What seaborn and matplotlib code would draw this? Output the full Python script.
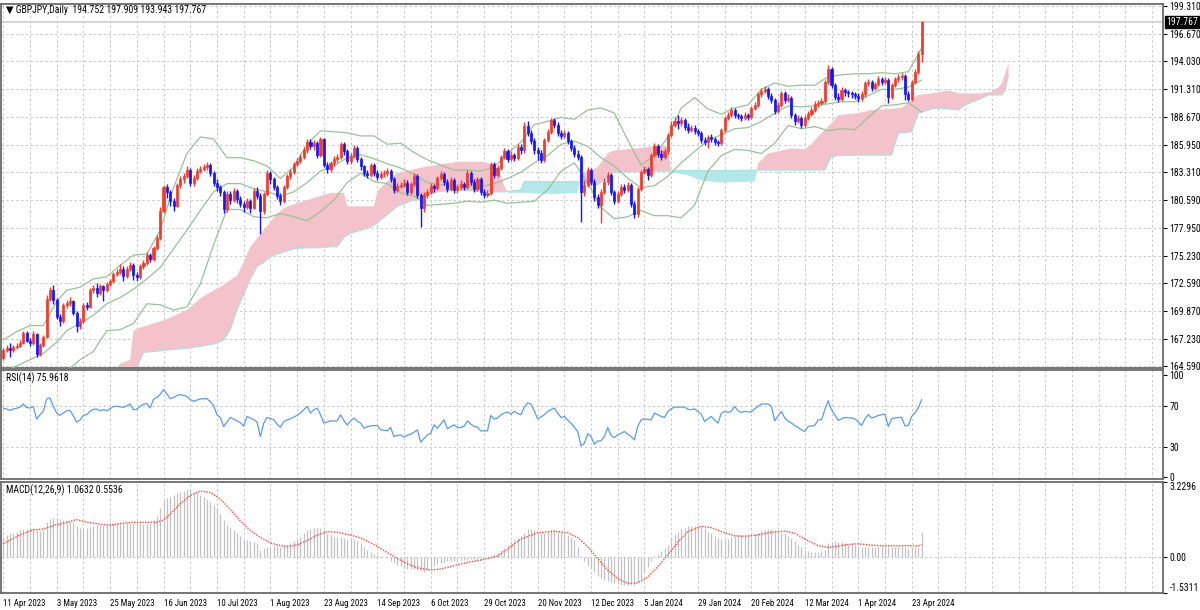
import numpy as np
import pandas as pd
import matplotlib
matplotlib.use("Agg")
import matplotlib.pyplot as plt
from matplotlib import font_manager
import seaborn as sns

sns.set_style("white")
plt.rcParams['font.family'] = ['Liberation Sans', 'DejaVu Sans']

# daily GBPJPY, 11 Apr 2023 .. 26 Apr 2024
first_open = 165.40
closes = [
    166.10, 166.30, 166.10, 166.40, 166.55, 166.85, 167.80, 167.05, 166.80, 167.70,
    165.75, 166.60, 167.40, 171.10, 171.90, 171.00, 169.35, 168.90, 170.50, 170.65,
    170.85, 169.75, 168.50, 168.90, 170.50, 170.30, 171.90, 172.10, 171.60, 172.30,
    171.90, 172.50, 172.75, 173.50, 173.70, 174.00, 173.30, 174.00, 174.30, 173.40,
    173.20, 174.20, 174.50, 175.30, 174.90, 176.00, 176.90, 179.60, 181.90, 181.40,
    180.50, 180.00, 182.10, 182.60, 182.90, 183.50, 182.30, 182.70, 183.40, 183.60,
    183.80, 184.00, 183.20, 182.30, 181.90, 181.40, 179.70, 181.20, 180.60, 181.50,
    180.70, 180.20, 179.90, 180.50, 179.80, 181.50, 181.00, 179.60, 181.20, 183.20,
    182.60, 181.90, 181.00, 180.50, 181.90, 182.90, 183.30, 184.10, 184.40, 184.80,
    185.40, 186.20, 185.80, 186.10, 185.00, 186.50, 184.00, 183.60, 184.15, 184.60,
    184.80, 186.00, 185.30, 184.40, 184.90, 185.60, 184.60, 183.85, 183.20, 183.00,
    184.00, 183.20, 182.80, 183.10, 183.20, 183.40, 182.60, 181.60, 182.00, 182.10,
    182.30, 181.40, 182.20, 182.90, 181.10, 179.80, 181.10, 181.40, 182.00, 181.80,
    182.70, 183.10, 182.40, 181.70, 182.50, 181.60, 181.90, 182.20, 181.90, 183.20,
    182.40, 181.70, 182.60, 181.40, 181.10, 181.30, 184.10, 183.00, 183.70, 184.80,
    185.30, 184.60, 185.00, 184.70, 185.70, 185.40, 187.80, 187.10, 186.30, 185.40,
    185.20, 184.50, 186.40, 187.20, 188.30, 187.90, 187.10, 186.80, 187.10, 186.30,
    185.60, 185.10, 184.80, 181.40, 182.10, 183.50, 182.40, 180.90, 180.10, 181.40,
    182.40, 183.00, 181.40, 180.50, 181.20, 181.90, 181.60, 182.10, 180.20, 179.30,
    181.70, 183.30, 183.60, 183.00, 185.00, 185.80, 185.10, 184.80, 185.30, 186.90,
    187.90, 188.20, 188.00, 188.30, 187.70, 187.40, 187.60, 187.30, 187.10, 186.40,
    186.20, 186.70, 186.50, 186.20, 186.10, 187.40, 188.50, 188.80, 189.30, 188.80,
    188.70, 188.50, 188.80, 188.60, 189.50, 189.80, 190.80, 191.10, 191.30, 190.70,
    190.30, 189.20, 189.80, 190.90, 190.30, 190.50, 188.80, 188.20, 188.50, 187.90,
    188.50, 188.90, 189.30, 189.90, 190.00, 190.20, 192.00, 193.30, 191.70, 190.60,
    190.40, 191.20, 191.00, 190.90, 190.80, 190.70, 190.50, 190.80, 191.90, 192.00,
    191.40, 191.80, 192.30, 192.00, 192.20, 190.60, 191.70, 192.30, 192.50, 192.60,
    190.80, 190.40, 192.00, 193.00, 194.752, 197.767,
]
highs = [
    166.30, 166.60, 166.80, 166.60, 166.80, 167.10, 167.95, 168.00, 167.30, 168.00,
    167.80, 166.80, 167.60, 171.40, 172.20, 172.40, 171.20, 169.60, 170.70, 171.00,
    171.30, 171.00, 169.90, 169.20, 170.70, 170.80, 172.10, 172.40, 172.60, 172.50,
    172.40, 172.70, 173.00, 173.70, 174.00, 174.40, 174.20, 174.20, 174.60, 174.50,
    173.70, 174.40, 174.80, 175.60, 175.50, 176.20, 177.20, 179.90, 182.10, 182.20,
    181.60, 180.80, 182.30, 182.90, 183.20, 183.90, 183.70, 183.00, 183.70, 183.90,
    184.10, 184.30, 184.20, 183.40, 182.60, 182.10, 181.60, 181.50, 181.50, 181.80,
    181.70, 181.00, 180.50, 180.80, 180.70, 181.80, 181.90, 181.30, 181.40, 183.50,
    183.40, 182.80, 182.10, 181.30, 182.10, 183.10, 183.60, 184.30, 184.70, 185.10,
    185.70, 186.50, 186.50, 186.40, 186.30, 186.70, 186.60, 184.30, 184.40, 184.90,
    185.10, 186.20, 186.20, 185.50, 185.20, 185.90, 185.80, 184.80, 184.00, 183.50,
    184.20, 184.20, 183.50, 183.40, 183.50, 183.70, 183.60, 182.80, 182.30, 182.40,
    182.60, 182.50, 182.40, 183.20, 183.10, 181.30, 181.40, 181.70, 182.30, 182.20,
    182.90, 183.40, 183.30, 182.60, 182.80, 182.70, 182.20, 182.50, 182.40, 183.50,
    183.40, 182.60, 182.80, 182.80, 181.70, 181.60, 184.30, 184.30, 184.00, 185.00,
    185.60, 185.50, 185.30, 185.20, 186.00, 186.00, 188.10, 188.20, 187.40, 186.60,
    185.70, 185.40, 186.60, 187.50, 188.50, 188.50, 188.10, 187.40, 187.40, 187.30,
    186.50, 185.90, 185.40, 185.00, 182.50, 183.80, 183.70, 182.60, 181.20, 181.70,
    182.70, 183.30, 183.20, 181.60, 181.50, 182.20, 182.20, 182.40, 182.30, 180.50,
    181.90, 183.50, 183.90, 183.80, 185.20, 186.10, 186.00, 185.40, 185.60, 187.10,
    188.20, 188.60, 188.80, 188.60, 188.50, 188.00, 187.90, 187.90, 187.50, 187.30,
    186.70, 186.90, 187.00, 186.70, 186.40, 187.60, 188.70, 189.10, 189.60, 189.50,
    189.00, 188.90, 189.10, 189.00, 189.70, 190.10, 191.00, 191.40, 191.60, 191.50,
    190.90, 190.50, 190.10, 191.10, 191.10, 190.80, 190.70, 189.00, 188.80, 188.70,
    188.80, 189.20, 189.60, 190.20, 190.30, 190.50, 192.20, 193.60, 193.50, 191.90,
    190.90, 191.50, 191.40, 191.20, 191.10, 191.00, 190.90, 191.10, 192.10, 192.30,
    192.20, 192.00, 192.60, 192.50, 192.50, 192.40, 191.90, 192.50, 192.80, 192.90,
    192.80, 191.10, 192.20, 193.30, 195.00, 197.909,
]
lows = [
    165.20, 165.90, 165.50, 165.90, 166.20, 166.40, 166.70, 166.90, 166.50, 166.60,
    165.50, 165.60, 166.40, 167.30, 170.90, 170.60, 169.10, 168.50, 168.70, 170.20,
    170.40, 169.50, 167.90, 168.20, 168.70, 170.00, 170.20, 171.60, 171.30, 171.40,
    170.90, 171.70, 172.30, 172.60, 173.30, 173.50, 172.80, 173.10, 173.80, 172.90,
    172.80, 173.00, 174.00, 174.30, 174.60, 174.70, 175.80, 176.80, 179.40, 180.80,
    180.00, 179.60, 179.90, 181.80, 182.30, 182.70, 182.00, 182.00, 182.50, 183.20,
    183.40, 183.50, 182.90, 182.00, 181.50, 181.00, 179.40, 179.50, 180.20, 180.40,
    180.30, 179.90, 179.50, 179.70, 179.40, 179.70, 180.70, 177.30, 179.30, 181.00,
    182.20, 181.60, 180.70, 180.10, 180.30, 181.70, 182.60, 183.10, 183.90, 184.20,
    184.60, 185.20, 185.50, 185.40, 184.70, 184.80, 183.80, 183.20, 183.30, 183.90,
    184.30, 184.60, 185.00, 184.10, 184.10, 184.70, 184.30, 183.50, 182.90, 182.70,
    182.80, 182.90, 182.50, 182.60, 182.80, 182.90, 182.40, 181.30, 181.40, 181.80,
    181.90, 181.10, 181.20, 182.00, 180.80, 178.00, 179.50, 180.80, 181.20, 181.40,
    181.60, 182.50, 182.10, 181.40, 181.50, 181.30, 181.30, 181.60, 181.60, 181.70,
    182.10, 181.40, 181.50, 181.10, 180.80, 180.90, 181.10, 182.70, 182.80, 183.50,
    184.60, 184.30, 184.40, 184.40, 184.50, 185.10, 185.20, 186.80, 186.00, 185.10,
    184.50, 184.20, 184.30, 186.20, 187.00, 187.60, 186.80, 186.50, 186.60, 186.00,
    185.30, 184.80, 184.50, 178.50, 181.00, 181.90, 182.10, 180.50, 179.80, 178.40,
    181.20, 182.10, 181.10, 180.20, 180.30, 181.00, 181.30, 181.40, 179.90, 178.90,
    179.00, 181.50, 183.10, 182.50, 182.80, 184.80, 184.80, 184.50, 184.60, 185.10,
    186.70, 187.70, 187.50, 187.80, 187.40, 187.10, 187.20, 187.00, 186.80, 186.10,
    185.90, 185.60, 186.20, 185.90, 185.80, 185.90, 187.20, 188.30, 188.60, 188.50,
    188.40, 188.20, 188.30, 188.30, 188.40, 189.30, 189.60, 190.60, 190.90, 190.40,
    190.00, 188.90, 189.00, 189.60, 190.00, 190.10, 188.50, 187.90, 188.00, 187.60,
    187.70, 188.30, 188.70, 189.10, 189.60, 189.80, 190.00, 191.80, 191.40, 190.30,
    190.10, 190.20, 190.70, 190.60, 190.50, 190.40, 190.10, 190.20, 190.60, 191.60,
    191.10, 191.20, 191.60, 191.70, 191.80, 190.00, 190.40, 191.50, 192.00, 192.20,
    190.30, 190.20, 190.20, 191.80, 192.80, 193.943,
]

# Bollinger Bands (20, 2)
bb_bar = [0, 4, 8, 12, 16] + list(range(19, 272, 4)) + [275]
bb_upper = [
    167.1, 167.9, 168.5, 168.5, 170.8, 171.9, 172.2, 173.0, 173.2, 174.3,
    175.3, 175.4, 177.7, 181.8, 185.1, 186.7, 186.5, 184.7, 184.7, 184.4,
    183.9, 182.7, 183.8, 186.0, 187.3, 187.2, 187.1, 186.8, 186.8, 186.0,
    186.1, 185.2, 184.5, 184.0, 183.5, 183.5, 183.4, 183.8, 185.1, 186.2,
    187.9, 188.2, 188.6, 188.4, 189.3, 189.5, 189.0, 186.4, 184.0, 184.9,
    186.7, 189.5, 190.5, 189.4, 188.9, 189.5, 189.8, 191.3, 191.9, 191.6,
    191.7, 191.7, 192.5, 192.7, 192.8, 192.8, 192.9, 192.8, 193.0, 195.3,
]
bb_mid = [
    164.0, 164.6, 165.2, 165.8, 166.9, 168.0, 168.7, 169.5, 170.6, 171.2,
    172.0, 173.0, 174.1, 175.9, 177.7, 179.6, 181.4, 182.2, 182.2, 181.7,
    181.4, 181.0, 181.4, 182.3, 183.4, 183.9, 184.7, 185.0, 184.6, 184.1,
    183.7, 183.1, 182.3, 182.1, 181.9, 182.0, 181.9, 182.2, 182.7, 183.3,
    184.2, 184.9, 186.0, 186.3, 185.8, 184.7, 183.9, 182.7, 181.8, 182.0,
    182.9, 184.2, 185.3, 186.4, 186.9, 187.5, 187.6, 188.2, 189.0, 189.7,
    189.6, 189.7, 189.9, 190.1, 190.1, 190.7, 191.3, 191.3, 191.5, 192.2,
]
bb_lower = [
    160.9, 161.3, 161.9, 163.1, 163.0, 164.1, 165.2, 166.0, 168.0, 168.1,
    168.7, 170.6, 170.5, 170.0, 170.3, 172.5, 176.3, 179.7, 179.7, 179.0,
    178.9, 179.3, 179.0, 178.6, 179.5, 180.6, 182.3, 183.2, 182.4, 182.2,
    181.3, 181.0, 180.1, 180.2, 180.3, 180.5, 180.4, 180.6, 180.3, 180.4,
    180.5, 181.6, 183.4, 184.2, 182.3, 179.9, 178.8, 179.0, 179.6, 179.1,
    179.1, 178.9, 180.1, 183.4, 184.9, 185.5, 185.4, 185.1, 186.1, 187.8,
    187.5, 187.7, 187.3, 187.5, 187.4, 188.6, 189.7, 189.8, 190.0, 189.1,
]

# Ichimoku cloud (Senkou span A / B, shifted 26 bars ahead)
kumo_bar = [
    28, 32, 35, 38, 39, 41, 42, 45, 48, 51, 55, 59, 63, 66, 68, 70, 72, 74, 76, 78,
    80, 82, 84, 86, 88, 91, 95, 98, 100, 102, 103, 104, 107, 110, 111, 112, 113, 115, 118, 122,
    126, 130, 136, 144, 148, 150, 151, 155, 156, 165, 172, 173, 177, 178, 181, 182, 183, 190, 195, 199,
    200, 205, 209, 215, 225, 226, 229, 236, 240, 242, 243, 246, 247, 248, 250, 256, 260, 265, 266, 268,
    269, 272, 274, 278, 280, 283, 286, 288, 292, 295, 296, 298, 299, 300, 301,
]
span_a = [
    163.0, 163.8, 164.8, 165.2, 168.0, 168.3, 168.4, 168.7, 169.0, 169.4,
    170.0, 171.1, 171.9, 172.4, 172.9, 173.3, 174.6, 176.1, 176.9, 177.7,
    178.5, 179.3, 179.8, 180.1, 180.3, 180.6, 181.0, 181.3, 181.3, 181.3,
    180.0, 180.0, 180.0, 180.0, 180.0, 181.4, 181.8, 182.4, 183.2, 183.5,
    183.8, 184.0, 184.3, 184.3, 183.8, 182.0, 181.3, 181.3, 181.3, 181.2,
    181.3, 183.2, 183.6, 183.8, 185.1, 185.3, 185.4, 185.6, 185.8, 185.8,
    183.3, 183.0, 182.5, 182.3, 182.4, 184.15, 185.1, 185.6, 185.5, 186.0,
    186.4, 187.4, 187.7, 188.0, 188.8, 189.0, 189.3, 189.4, 189.4, 189.5,
    189.5, 190.3, 190.75, 190.9, 191.0, 191.2, 190.9, 190.9, 190.9, 191.0,
    191.1, 191.5, 191.9, 192.8, 193.8,
]
span_b = [
    162.0, 162.3, 162.6, 163.0, 163.5, 165.2, 165.9, 166.0, 166.1, 166.2,
    166.3, 166.5, 166.7, 167.1, 168.1, 170.0, 171.5, 173.0, 174.2, 174.6,
    175.1, 175.4, 175.6, 175.8, 175.95, 176.0, 176.0, 176.1, 176.1, 177.0,
    177.2, 177.4, 177.7, 178.0, 178.2, 178.4, 178.7, 179.2, 180.0, 180.5,
    180.9, 181.4, 181.6, 181.4, 181.4, 181.4, 181.45, 181.6, 182.4, 182.4,
    182.4, 182.2, 182.1, 182.1, 182.8, 183.2, 183.3, 183.35, 183.4, 183.4,
    183.45, 183.45, 183.45, 183.45, 183.5, 183.5, 183.5, 183.5, 183.5, 183.5,
    183.5, 183.5, 184.2, 184.8, 184.9, 184.95, 184.95, 184.95, 184.95, 187.05,
    187.1, 187.2, 189.0, 189.4, 189.5, 189.4, 189.3, 189.8, 190.3, 190.75,
    190.75, 190.75, 190.75, 191.2, 192.7,
]

# RSI(14)
rsi = [
    67.7, 66.7, 65.4, 66.8, 67.5, 68.5, 71.6, 68.2, 67.7, 69.3,
    56.9, 61.1, 64.4, 76.6, 77.5, 69.3, 63.0, 60.5, 62.8, 65.1,
    65.4, 60.0, 53.9, 56.0, 60.5, 61.3, 64.5, 66.5, 66.7, 65.1,
    66.1, 65.1, 67.0, 69.3, 69.3, 69.0, 68.4, 70.0, 71.6, 66.0,
    66.5, 69.3, 71.5, 72.0, 67.7, 76.2, 78.0, 81.0, 85.7, 81.5,
    76.9, 78.0, 80.0, 80.8, 80.0, 79.2, 76.0, 74.3, 75.5, 76.6,
    76.7, 76.9, 74.0, 70.0, 61.1, 58.5, 49.7, 54.0, 58.5, 56.8,
    55.2, 53.5, 50.0, 59.5, 57.9, 56.5, 54.0, 39.8, 52.9, 58.5,
    57.5, 56.2, 52.0, 49.0, 54.6, 56.0, 57.2, 59.0, 60.5, 62.8,
    66.0, 69.3, 62.8, 66.0, 67.7, 61.1, 53.0, 54.0, 55.2, 55.0,
    55.2, 61.1, 55.5, 51.0, 55.0, 57.9, 55.0, 53.0, 48.0, 49.5,
    50.3, 50.5, 50.7, 46.4, 46.0, 45.4, 48.7, 39.8, 41.0, 41.5,
    39.2, 41.0, 42.1, 44.0, 46.4, 34.3, 38.0, 41.5, 43.1, 51.3,
    48.0, 52.0, 56.2, 47.4, 49.5, 51.3, 48.7, 48.7, 50.0, 55.2,
    52.0, 49.7, 49.0, 45.4, 45.4, 45.4, 60.5, 56.9, 57.9, 61.0,
    62.8, 63.8, 61.8, 64.4, 62.5, 61.1, 68.4, 72.6, 71.6, 65.0,
    57.2, 59.0, 61.1, 64.4, 66.0, 67.7, 62.8, 58.5, 59.5, 56.0,
    53.0, 49.0, 44.8, 30.7, 33.3, 42.5, 39.8, 32.3, 35.6, 35.6,
    40.0, 48.7, 41.0, 38.9, 41.5, 43.0, 44.8, 42.0, 39.8, 36.6,
    50.0, 56.2, 57.2, 56.5, 56.2, 62.8, 61.1, 59.5, 58.5, 64.4,
    67.0, 68.7, 68.5, 68.7, 68.7, 66.5, 66.1, 67.0, 64.0, 61.8,
    54.6, 57.0, 59.5, 56.0, 53.0, 62.5, 64.4, 63.5, 64.4, 69.3,
    65.0, 63.4, 64.4, 64.0, 63.8, 67.0, 69.3, 71.6, 71.6, 71.6,
    69.3, 55.2, 60.0, 64.4, 58.0, 55.0, 53.0, 50.5, 48.7, 46.5,
    44.8, 49.7, 50.2, 50.7, 56.2, 56.2, 66.0, 74.9, 66.0, 61.1,
    55.6, 57.0, 58.5, 58.2, 57.9, 57.2, 54.0, 50.7, 57.0, 61.1,
    57.9, 59.0, 60.5, 61.2, 61.8, 49.7, 57.2, 57.8, 58.5, 58.5,
    50.3, 50.7, 59.5, 63.0, 68.0, 75.9618,
]

# MACD(12,26,9): main line as histogram, signal as dotted line
macd_hist = [
    0.89, 0.96, 1.03, 1.06, 1.10, 1.16, 1.22, 1.23, 1.24, 1.25,
    1.15, 1.12, 1.18, 1.50, 1.65, 1.70, 1.68, 1.65, 1.60, 1.56,
    1.55, 1.53, 1.32, 1.25, 1.25, 1.25, 1.30, 1.36, 1.37, 1.38,
    1.39, 1.40, 1.42, 1.44, 1.45, 1.46, 1.47, 1.48, 1.49, 1.47,
    1.46, 1.46, 1.44, 1.42, 1.45, 1.60, 1.75, 2.10, 2.46, 2.56,
    2.60, 2.66, 2.74, 2.79, 2.84, 2.93, 2.88, 2.82, 2.74, 2.67,
    2.60, 2.50, 2.39, 2.25, 2.10, 1.85, 1.60, 1.39, 1.28, 1.18,
    1.05, 0.90, 0.75, 0.72, 0.68, 0.65, 0.61, 0.32, 0.40, 0.46,
    0.50, 0.53, 0.50, 0.46, 0.50, 0.53, 0.60, 0.68, 0.78, 0.89,
    1.03, 1.18, 1.22, 1.24, 1.25, 1.27, 1.15, 1.03, 0.95, 0.89,
    0.87, 0.85, 0.82, 0.79, 0.77, 0.75, 0.68, 0.61, 0.46, 0.32,
    0.23, 0.14, 0.09, 0.04, 0.00, -0.03, -0.14, -0.25, -0.32, -0.39,
    -0.44, -0.49, -0.51, -0.52, -0.53, -0.58, -0.63, -0.56, -0.49, -0.39,
    -0.29, -0.25, -0.21, -0.18, -0.17, -0.16, -0.15, -0.13, -0.12, -0.10,
    -0.06, -0.12, -0.18, -0.10, -0.04, -0.02, 0.04, 0.12, 0.19, 0.30,
    0.40, 0.54, 0.68, 0.75, 0.82, 0.92, 1.03, 1.22, 1.20, 1.18,
    1.10, 1.03, 1.06, 1.10, 1.15, 1.18, 1.14, 1.10, 1.03, 0.96,
    0.86, 0.75, 0.46, 0.00, -0.18, -0.32, -0.50, -0.61, -0.80, -0.89,
    -0.96, -1.03, -1.07, -1.10, -1.15, -1.18, -1.19, -1.20, -1.19, -1.18,
    -1.05, -0.96, -0.65, -0.40, -0.18, 0.04, 0.15, 0.25, 0.40, 0.53,
    0.89, 1.00, 1.10, 1.20, 1.27, 1.32, 1.36, 1.36, 1.36, 1.30,
    1.25, 1.10, 1.03, 0.90, 0.82, 0.78, 0.75, 0.80, 0.85, 0.90,
    0.96, 0.96, 0.96, 0.94, 0.93, 0.98, 1.03, 1.12, 1.18, 1.20,
    1.22, 1.15, 1.10, 1.06, 1.03, 0.92, 0.82, 0.68, 0.53, 0.42,
    0.32, 0.27, 0.22, 0.22, 0.22, 0.27, 0.32, 0.61, 0.66, 0.68,
    0.66, 0.64, 0.61, 0.58, 0.55, 0.53, 0.48, 0.42, 0.44, 0.46,
    0.46, 0.46, 0.48, 0.50, 0.48, 0.46, 0.44, 0.42, 0.44, 0.46,
    0.41, 0.36, 0.42, 0.44, 0.46, 1.0632,
]
sig_bar = [
    0, 5, 9, 12, 15, 19, 22, 25, 29, 32, 35, 39, 43, 46, 48, 50, 53, 56, 59, 62,
    65, 68, 71, 74, 77, 80, 83, 85, 88, 91, 94, 97, 100, 104, 107, 111, 115, 118, 121, 124,
    128, 131, 135, 139, 143, 148, 151, 155, 160, 165, 169, 172, 175, 178, 181, 184, 187, 190, 193, 196,
    199, 202, 205, 209, 212, 216, 219, 222, 226, 230, 234, 237, 240, 244, 247, 250, 253, 256, 260, 264,
    268, 271, 274, 275,
]
macd_signal = [
    0.58, 0.96, 1.18, 1.21, 1.36, 1.50, 1.62, 1.50, 1.42, 1.38,
    1.45, 1.50, 1.50, 1.50, 1.60, 1.85, 2.30, 2.65, 2.84, 2.78,
    2.50, 2.05, 1.55, 1.15, 0.85, 0.62, 0.50, 0.46, 0.53, 0.72,
    0.95, 1.10, 1.07, 0.95, 0.83, 0.55, 0.20, -0.05, -0.28, -0.45,
    -0.55, -0.50, -0.36, -0.22, -0.12, 0.05, 0.35, 0.78, 1.05, 1.12,
    1.05, 0.85, 0.45, -0.05, -0.55, -0.92, -1.12, -1.10, -0.85, -0.40,
    0.10, 0.65, 1.10, 1.33, 1.27, 1.05, 0.92, 0.90, 0.96, 1.08,
    1.12, 1.03, 0.78, 0.50, 0.42, 0.48, 0.55, 0.58, 0.52, 0.49,
    0.49, 0.50, 0.48, 0.5536,
]

price_ticks = [199.310, 196.670, 194.030, 191.310, 188.670, 185.950, 183.310,
               180.590, 177.950, 175.230, 172.590, 169.870, 167.230, 164.590]
rsi_ticks = [0, 30, 70, 100]
macd_ticks = [-1.5311, 0.0, 3.2296]
macd_tick_labels = ["-1.5311", "0.00", "3.2296"]
date_labels = ["11 Apr 2023", "3 May 2023", "25 May 2023", "16 Jun 2023", "10 Jul 2023",
               "1 Aug 2023", "23 Aug 2023", "14 Sep 2023", "6 Oct 2023", "29 Oct 2023",
               "20 Nov 2023", "12 Dec 2023", "5 Jan 2024", "29 Jan 2024", "20 Feb 2024",
               "12 Mar 2024", "1 Apr 2024", "23 Apr 2024"]
label_step = 16
grid_step = 8

RED = "#f23b2b"
BLUE = "#1515ff"
BAND = "#96c396"
PINK = "#f4c2ca"
CYAN = "#b3e7e9"
GRID = "#c9c9c9"
DASH = (0, (2.5, 2.5))


def pick_family(cands):
    for c in cands:
        try:
            font_manager.findfont(font_manager.FontProperties(family=c),
                                  fallback_to_default=False)
            return c
        except ValueError:
            pass
    return None


narrow = pick_family(["Liberation Sans Narrow", "DejaVu Sans Condensed", "Roboto Condensed"])
if narrow:
    FAM = [narrow, "DejaVu Sans"]
    FS_TXT, FS_TICK, FS_DATE = 7.0, 7.0, 6.3
else:
    FAM = ["Liberation Sans", "DejaVu Sans"]
    FS_TXT, FS_TICK, FS_DATE = 5.7, 6.2, 5.2

df = pd.DataFrame({"close": closes, "high": highs, "low": lows})
df["open"] = [first_open] + closes[:-1]
df["bar"] = np.arange(len(df))
df["up"] = df["close"] >= df["open"]
df["body_lo"] = df[["open", "close"]].min(axis=1)
df["body_hi"] = df[["open", "close"]].max(axis=1)
cols = np.where(df["up"], RED, BLUE)

fig = plt.figure(figsize=(12, 6.1), dpi=100)
ax_p = fig.add_axes([0.001, 0.3967, 0.9683, 0.5967])
ax_r = fig.add_axes([0.001, 0.2148, 0.9683, 0.1787])
ax_m = fig.add_axes([0.001, 0.0279, 0.9683, 0.1820])

n_grid = int(347 // grid_step) + 1
for ax in (ax_p, ax_r, ax_m):
    ax.yaxis.tick_right()
    ax.tick_params(axis="y", which="both", length=3, width=0.8, pad=1.5,
                   labelsize=FS_TICK, colors="black")
    ax.set_xticks(np.arange(n_grid) * grid_step, minor=True)
    ax.set_xticks(np.arange(len(date_labels)) * label_step)
    ax.grid(True, axis="x", which="both", linestyle=DASH, color=GRID, linewidth=0.7)
    for s in ax.spines.values():
        s.set_color("#6a6a6a")
        s.set_linewidth(1.3)

# ---- price panel ----
ax_p.set_ylim(164.40, 199.53)
ax_p.set_yticks(price_ticks)
ax_p.set_yticklabels([f"{v:.3f}" for v in price_ticks])
ax_p.grid(True, axis="y", linestyle=DASH, color=GRID, linewidth=0.7)
ax_p.tick_params(axis="x", which="both", length=0, labelbottom=False)

a = np.array(span_a)
b = np.array(span_b)
ax_p.fill_between(kumo_bar, a, b, where=a >= b, interpolate=True, color=PINK, lw=0, zorder=1)
ax_p.fill_between(kumo_bar, a, b, where=a < b, interpolate=True, color=CYAN, lw=0, zorder=1)
sns.lineplot(x=kumo_bar, y=span_b, ax=ax_p, color="#a9e1e4", linewidth=0.8, zorder=2)

for band in (bb_upper, bb_mid, bb_lower):
    sns.lineplot(x=bb_bar, y=band, ax=ax_p, color=BAND, linewidth=0.9, zorder=3)

ax_p.axhline(closes[-1], color="#d6d6d6", linewidth=1.4, zorder=0.5)

ax_p.vlines(df["bar"], df["low"], df["high"], colors=cols, linewidth=1.0, zorder=4)
ax_p.bar(df["bar"], df["body_hi"] - df["body_lo"], bottom=df["body_lo"], width=0.62,
         color=cols, edgecolor=cols, linewidth=0.5, zorder=5)

last = (float(df["open"].iloc[-1]), highs[-1], lows[-1], closes[-1])
ax_p.text(0.004, 0.983, "\u25bc GBPJPY,Daily  " + " ".join(f"{v:.3f}" for v in last),
          transform=ax_p.transAxes, ha="left", va="center", fontsize=FS_TXT,
          color="black", family=FAM, zorder=10)
ax_p.text(1.0025, closes[-1], f"{closes[-1]:.3f}", transform=ax_p.get_yaxis_transform(),
          ha="left", va="center", fontsize=FS_TICK, color="white", family=FAM,
          zorder=10, clip_on=False,
          bbox=dict(boxstyle="square,pad=0.12", fc="black", ec="black"))

# ---- RSI panel ----
ax_r.set_ylim(-1.6, 104.9)
ax_r.set_yticks(rsi_ticks)
ax_r.set_yticklabels([str(v) for v in rsi_ticks])
ax_r.tick_params(axis="x", which="both", length=0, labelbottom=False)
for lvl in (70, 30):
    ax_r.axhline(lvl, linestyle=DASH, color=GRID, linewidth=0.7, zorder=0)
sns.lineplot(x=df["bar"], y=rsi, ax=ax_r, color="#5a9af0", linewidth=0.9, zorder=3)
ax_r.text(0.004, 0.927, f"RSI(14) {rsi[-1]:.4f}", transform=ax_r.transAxes,
          ha="left", va="center", fontsize=FS_TXT, color="black", family=FAM)

# ---- MACD panel ----
ax_m.set_ylim(macd_ticks[0], macd_ticks[-1])
ax_m.set_yticks(macd_ticks)
ax_m.set_yticklabels(macd_tick_labels)
labs = ax_m.get_yticklabels()
labs[0].set_va("bottom")
labs[-1].set_va("top")
ax_m.axhline(0, linestyle=DASH, color=GRID, linewidth=0.7, zorder=0)
ax_m.vlines(df["bar"], 0, macd_hist, colors="#c2c2c2", linewidth=0.9, zorder=2)
sns.lineplot(x=sig_bar, y=macd_signal, ax=ax_m, color="#f04a3c", linewidth=1.0,
             linestyle=(0, (1, 1)), zorder=3)
ax_m.text(0.004, 0.928, f"MACD(12,26,9) {macd_hist[-1]:.4f} {macd_signal[-1]:.4f}",
          transform=ax_m.transAxes, ha="left", va="center", fontsize=FS_TXT,
          color="black", family=FAM)

ax_m.set_xticklabels(date_labels)
ax_m.tick_params(axis="x", which="major", length=3, width=0.8, pad=1.5,
                 labelsize=FS_DATE, colors="black")
ax_m.tick_params(axis="x", which="minor", length=0)
for lab in ax_m.get_xticklabels():
    lab.set_ha("left")
    lab.set_family(FAM)

for ax in (ax_p, ax_r, ax_m):
    ax.set_xlim(-0.6, 347.3)
    ax.set_xlabel("")
    ax.set_ylabel("")
    for lab in ax.get_yticklabels():
        lab.set_family(FAM)

fig.savefig("out.png", dpi=100)
